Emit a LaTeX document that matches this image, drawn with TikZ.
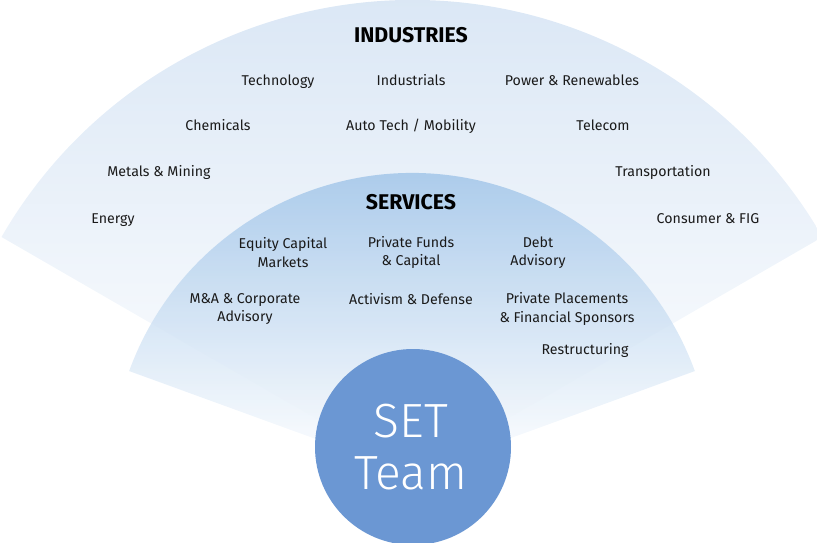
\documentclass[tikz,border=0pt]{standalone}
\usepackage{fontspec}
\setmainfont{Fira Sans}
\newfontfamily\setlight{Fira Sans Light}
\definecolor{txt}{HTML}{1A1A1A}
\definecolor{outerc}{HTML}{D6E4F4}
\definecolor{innerc}{HTML}{94BDE6}
\definecolor{circc}{HTML}{6B97D3}
\begin{document}
\begin{tikzpicture}[x=1pt,y=-1pt,
  lab/.style={text=txt,font=\fontsize{14.2}{18.5}\selectfont,align=center,inner sep=0pt},
  one/.style={lab,anchor=base},
  head/.style={text=black,font=\fontsize{21.3}{22}\selectfont\bfseries,inner sep=0pt,anchor=base}]
\useasboundingbox (0,0) rectangle (817,542);
\coordinate (c) at (412,474);
% outer sector
\shade[top color=outerc,bottom color=white]
  (c) -- ++(210:474) arc[start angle=210,end angle=330,radius=474] -- cycle;
% inner sector
\shade[top color=innerc,bottom color=white,opacity=0.82]
  (c) -- ++(200:301) arc[start angle=200,end angle=340,radius=301] -- cycle;
% circle
\node[circle,fill=circc,minimum size=196pt,inner sep=0pt] (team) at (413,447) {};
\node[text=white,font=\fontsize{48}{52}\selectfont\setlight,align=center,inner sep=0pt] (tl) at (411,447) {SET\\Team};
% headings
\node[head] (ind) at (411,42) {INDUSTRIES};
\node[head] (ser) at (411,209) {SERVICES};
% industries
\node[one] (i1) at (278,85) {Technology};
\node[one] (i2) at (411,85) {Industrials};
\node[one] (i3) at (572,85) {Power \& Renewables};
\node[one] (i4) at (218,130.5) {Chemicals};
\node[one] (i5) at (411,130.5) {Auto Tech / Mobility};
\node[one] (i6) at (603,130.5) {Telecom};
\node[one] (i7) at (159,176.5) {Metals \& Mining};
\node[one] (i8) at (663,176.5) {Transportation};
\node[one] (i9) at (113,223) {Energy};
\node[one] (i10) at (708,223) {Consumer \& FIG};
% services
\node[lab] (s1) at (283,252.5) {Equity Capital\\Markets};
\node[lab] (s2) at (411,252.5) {Private Funds\\\& Capital};
\node[lab] (s3) at (538,252.5) {Debt\\Advisory};
\node[lab] (s4) at (245,309) {M\&A \& Corporate\\Advisory};
\node[one] (s5) at (411,304.5) {Activism \& Defense};
\node[lab] (s6) at (567,309) {Private Placements\\\& Financial Sponsors};
\node[one] (s7) at (585,354.5) {Restructuring};
\end{tikzpicture}
\end{document}
